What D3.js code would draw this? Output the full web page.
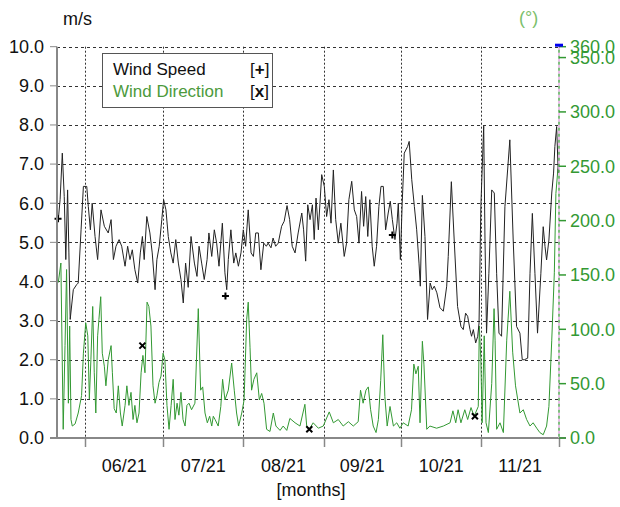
<!DOCTYPE html>
<html>
<head>
<meta charset="utf-8">
<script src="https://cdn.jsdelivr.net/npm/d3@7"></script>
<style>
body { margin: 0; background: #fff; }
svg { display: block; }
text { font-family: "Liberation Sans", Arial, sans-serif; }
</style>
</head>
<body>
<svg width="620" height="507"></svg>
<script>

/// Data ///
var startDate = Date.UTC(2021, 4, 21);   // left edge of the time axis
var endDate = Date.UTC(2021, 11, 1);     // right edge
var monthLabels = ["06/21", "07/21", "08/21", "09/21", "10/21", "11/21"];
var speedTicks = [0, 1, 2, 3, 4, 5, 6, 7, 8, 9, 10];
var dirTicks = [0, 50, 100, 150, 200, 250, 300, 350, 360];

// [days since startDate, m/s]
var speed = [
  [0.5,5.58],[1.2,6.09],[2.05,7.28],[2.8,6.17],[3.4,4.56],[4.1,6.34],[4.6,4.73],[5.1,3.03],
  [6.3,3.79],[7.6,3.92],[8.2,3.96],[9.3,5.32],[10.2,6.43],[11.5,6.43],[12.1,5.92],[12.9,5.32],
  [13.6,6.0],[14.7,5.15],[15.7,4.56],[17.0,5.83],[18.3,5.41],[19.8,5.24],[20.9,5.58],[21.8,4.56],
  [22.8,4.9],[24.0,5.07],[25.0,4.9],[26.3,4.39],[27.3,4.9],[28.2,4.56],[29.1,4.81],[30.1,4.3],
  [31.2,3.96],[32.2,4.73],[33.0,5.15],[33.7,4.56],[34.7,5.66],[35.9,5.24],[36.8,4.73],[37.9,3.79],
  [38.6,4.56],[39.5,4.9],[40.5,5.58],[41.2,6.09],[42.1,5.83],[43.0,5.15],[44.0,4.73],[44.9,4.47],
  [45.9,5.07],[46.9,4.47],[47.9,4.05],[48.8,3.45],[49.7,4.47],[50.7,3.85],[51.8,5.15],[53.1,4.47],
  [54.1,4.13],[54.9,4.9],[55.9,4.47],[56.9,4.05],[58.0,4.56],[58.7,5.24],[59.8,4.64],[60.8,5.32],
  [61.7,4.98],[62.6,4.39],[63.9,5.49],[64.9,4.22],[65.6,3.79],[66.2,4.56],[67.2,5.32],[68.3,4.47],
  [69.1,4.73],[70.1,4.39],[71.1,4.73],[72.0,5.32],[72.9,4.9],[73.9,5.83],[75.0,4.73],[75.9,4.64],
  [76.8,5.24],[77.8,5.24],[78.8,4.3],[79.9,4.98],[80.9,4.9],[81.6,4.98],[82.7,4.86],[83.5,5.11],
  [84.5,4.9],[85.5,4.98],[86.8,5.41],[87.8,5.54],[88.9,5.94],[89.9,5.58],[90.9,4.9],[92.0,4.73],
  [93.2,5.24],[94.6,5.75],[95.3,5.32],[96.1,4.52],[96.9,5.96],[97.8,5.58],[98.7,5.96],[99.4,5.07],
  [100.1,6.13],[101.0,5.32],[102.3,6.73],[103.3,6.43],[104.2,5.66],[105.1,6.09],[105.9,5.49],[106.8,6.85],
  [107.7,5.58],[108.7,4.98],[109.7,5.49],[111.0,4.64],[111.9,4.98],[112.8,6.09],[113.9,6.56],[114.9,5.83],
  [115.8,5.66],[116.7,4.98],[117.7,6.3],[118.5,5.41],[119.3,6.17],[120.1,5.15],[120.9,6.09],[121.8,4.9],
  [122.6,4.39],[123.5,4.9],[124.4,5.92],[125.2,6.43],[126.1,6.43],[127.0,5.32],[128.0,5.75],[128.8,6.05],
  [129.6,5.58],[130.6,5.07],[131.4,5.49],[131.9,6.0],[132.7,4.56],[133.4,6.0],[134.2,7.28],[135.5,7.45],
  [136.1,7.58],[137.1,6.6],[138.1,5.92],[139.0,5.32],[139.9,4.47],[140.4,3.88],[141.2,6.2],[142.2,5.15],
  [143.2,3.03],[144.2,3.96],[145.0,3.79],[145.8,3.88],[146.8,3.71],[148.0,3.33],[149.3,3.24],[150.6,3.88],
  [151.2,4.64],[152.4,6.55],[153.5,5.06],[154.8,3.36],[156.1,2.85],[157.0,2.77],[157.9,3.19],[158.7,3.11],
  [159.6,2.77],[160.2,2.6],[160.9,2.77],[161.8,2.43],[162.6,2.6],[163.1,2.94],[163.8,5.91],[164.9,7.97],
  [165.4,5.06],[166.0,2.68],[166.9,4.21],[168.0,6.34],[169.0,6.26],[169.9,4.21],[170.8,2.68],[171.8,2.6],
  [173.1,5.91],[175.0,7.62],[176.3,5.06],[177.6,2.85],[178.9,2.68],[179.8,2.0],[180.6,2.0],[181.9,2.04],
  [182.8,4.21],[183.7,5.74],[184.7,4.21],[185.7,2.68],[187.0,4.21],[187.9,5.4],[188.6,4.89],[189.2,4.55],
  [190.1,5.06],[191.2,6.26],[191.9,6.77],[192.4,7.45],[193.1,7.96],[193.7,6.77]
];

// [days since startDate, degrees]
var direction = [
  [0.5,143],[1.5,161],[2.4,8],[3.1,85],[3.7,155],[4.4,32],[4.9,103],[5.4,17],[5.9,11],[7.0,13],
  [8.2,23],[9.5,39],[10.2,78],[11.1,106],[11.9,94],[12.5,36],[13.1,72],[13.8,121],[14.4,60],[15.0,23],
  [15.7,94],[16.2,109],[16.9,130],[17.5,78],[18.3,66],[18.9,48],[19.8,72],[20.9,85],[21.4,60],[22.1,27],
  [22.9,23],[23.7,48],[24.5,23],[25.2,11],[26.3,30],[27.0,48],[27.8,30],[28.6,42],[29.4,17],[30.1,30],
  [30.9,14],[31.7,23],[32.5,60],[33.2,76],[34.0,60],[34.8,125],[35.5,121],[36.3,103],[37.1,48],[37.9,32],
  [38.6,39],[39.4,51],[40.2,57],[41.0,78],[41.7,72],[42.5,30],[43.3,8],[44.1,30],[44.9,54],[45.6,17],
  [46.4,32],[47.1,21],[47.9,42],[48.7,17],[49.5,11],[50.2,30],[51.0,32],[52.0,26],[53.3,32],[54.6,119],
  [55.5,44],[56.3,47],[57.2,23],[58.1,14],[59.0,20],[59.8,11],[60.4,20],[61.1,17],[62.3,11],[63.3,29],
  [64.0,54],[64.9,35],[66.2,44],[67.5,69],[68.5,44],[69.4,23],[70.2,11],[71.4,23],[72.3,35],[73.3,109],
  [73.9,125],[74.6,83],[75.2,44],[76.1,54],[77.2,60],[78.2,35],[79.1,41],[80.0,32],[81.0,8],[82.3,6],
  [83.6,23],[84.6,11],[86.2,7],[87.4,11],[88.8,7],[90.0,18],[92.0,14],[93.9,11],[95.8,31],[96.5,11],
  [97.5,8],[99.0,14],[101.0,9],[102.9,11],[105.2,24],[106.8,14],[108.7,17],[110.6,11],[112.6,15],[114.5,11],
  [116.4,15],[117.3,44],[118.3,32],[119.4,44],[120.3,47],[121.2,26],[122.2,11],[123.3,5],[124.2,17],[125.1,53],
  [125.9,95],[126.7,38],[127.6,11],[128.7,29],[130.0,11],[131.3,14],[132.5,9],[133.8,14],[135.7,11],[137.0,26],
  [137.9,68],[138.7,59],[139.6,66],[140.3,14],[141.2,89],[141.8,68],[142.9,8],[144.1,11],[146.7,9],[149.3,11],
  [151.9,14],[153.0,25],[154.1,14],[155.0,26],[156.1,14],[157.6,26],[158.7,17],[160.0,28],[161.2,20],[162.8,29],
  [163.2,103],[163.8,72],[164.3,14],[165.1,94],[165.8,14],[166.7,5],[168.0,50],[168.9,119],[169.3,90],[169.9,8],
  [171.2,14],[172.5,5],[173.8,90],[175.0,135],[176.1,79],[177.2,48],[178.9,23],[180.2,26],[181.5,17],[182.8,11],
  [184.0,14],[185.4,9],[186.6,5],[187.9,3],[189.2,11],[190.1,29],[191.2,90],[192.2,152],[192.8,225],[193.6,248]
];

// sample markers drawn on each series
var speedMarks = [[0.4,5.6],[65.1,3.63],[129.6,5.19]];
var dirMarks = [[33.0,85],[97.5,8],[161.5,20]];

/// Settings ///
var svg = d3.select("svg");
var plotL = 57, plotR = 559, plotT = 46.7, plotB = 438;
var green = "#339933";

function dayToDate(d) { return new Date(startDate + d * 864e5); }

var x = d3.scaleUtc()
    .domain([new Date(startDate), new Date(endDate)])
    .range([plotL, plotR]);

var y = d3.scaleLinear().domain([0, 10]).range([plotB, plotT]);
var y2 = d3.scaleLinear().domain([0, 360]).range([plotB, plotT]);

var monthStarts = d3.utcMonth.range(new Date(Date.UTC(2021, 5, 1)), new Date(endDate));

/// Grid ///
svg.append("g").selectAll("line")
  .data(speedTicks.filter(function(d) { return d > 0; }))
  .enter().append("line")
    .attr("x1", plotL).attr("x2", plotR)
    .attr("y1", function(d) { return Math.round(y(d)) + 0.5; })
    .attr("y2", function(d) { return Math.round(y(d)) + 0.5; })
    .attr("stroke", "#333").attr("stroke-width", 1)
    .attr("stroke-dasharray", "3,3");

svg.append("g").selectAll("line")
  .data(monthStarts)
  .enter().append("line")
    .attr("x1", function(d) { return Math.round(x(d)) + 0.5; })
    .attr("x2", function(d) { return Math.round(x(d)) + 0.5; })
    .attr("y1", plotT).attr("y2", plotB)
    .attr("stroke", "#333").attr("stroke-width", 1)
    .attr("stroke-dasharray", "2,2");

/// Series ///
var speedLine = d3.line()
    .x(function(d) { return x(dayToDate(d[0])); })
    .y(function(d) { return y(d[1]); });

var dirLine = d3.line()
    .x(function(d) { return x(dayToDate(d[0])); })
    .y(function(d) { return y2(d[1]); });

svg.append("path")
    .datum(direction)
    .attr("fill", "none")
    .attr("stroke", green)
    .attr("stroke-width", 1)
    .attr("d", dirLine);

svg.append("path")
    .datum(speed)
    .attr("fill", "none")
    .attr("stroke", "#222")
    .attr("stroke-width", 1)
    .attr("d", speedLine);

// + markers
svg.append("g").selectAll("path")
  .data(speedMarks)
  .enter().append("path")
    .attr("transform", function(d) { return "translate(" + x(dayToDate(d[0])) + "," + y(d[1]) + ")"; })
    .attr("d", "M-3.5,0H3.5M0,-3.5V3.5")
    .attr("stroke", "#000").attr("stroke-width", 2);

// x markers
svg.append("g").selectAll("path")
  .data(dirMarks)
  .enter().append("path")
    .attr("transform", function(d) { return "translate(" + x(dayToDate(d[0])) + "," + y2(d[1]) + ")"; })
    .attr("d", "M-3,-3L3,3M-3,3L3,-3")
    .attr("stroke", "#000").attr("stroke-width", 2);

/// Axes ///
// left axis
svg.append("line")
    .attr("x1", plotL).attr("x2", plotL)
    .attr("y1", plotT).attr("y2", plotB)
    .attr("stroke", "#888").attr("stroke-width", 2);

var yTicks = svg.append("g").selectAll("g")
  .data(speedTicks)
  .enter().append("g")
    .attr("transform", function(d) { return "translate(0," + y(d) + ")"; });
yTicks.append("line")
    .attr("x1", plotL - 7).attr("x2", plotL)
    .attr("stroke", "#888").attr("stroke-width", 1);
yTicks.append("text")
    .attr("x", 44).attr("dy", "0.35em")
    .attr("text-anchor", "end")
    .attr("font-size", 18)
    .attr("fill", "#111")
    .text(function(d) { return d.toFixed(1); });

// bottom axis
svg.append("line")
    .attr("x1", plotL - 7).attr("x2", plotR + 7)
    .attr("y1", plotB).attr("y2", plotB)
    .attr("stroke", "#888").attr("stroke-width", 2);

svg.append("g").selectAll("line")
  .data(monthStarts.concat([new Date(endDate)]))
  .enter().append("line")
    .attr("x1", function(d) { return Math.round(x(d)) + 0.5; })
    .attr("x2", function(d) { return Math.round(x(d)) + 0.5; })
    .attr("y1", plotB).attr("y2", plotB + 9)
    .attr("stroke", "#888").attr("stroke-width", 1.5);

svg.append("g").selectAll("text")
  .data(monthStarts)
  .enter().append("text")
    .attr("x", function(d) { return (x(d) + x(d3.utcMonth.offset(d, 1))) / 2; })
    .attr("y", 472)
    .attr("text-anchor", "middle")
    .attr("font-size", 18)
    .attr("fill", "#111")
    .text(function(d, i) { return monthLabels[i]; });

svg.append("text")
    .attr("x", 311).attr("y", 496)
    .attr("text-anchor", "middle")
    .attr("font-size", 18)
    .attr("fill", "#111")
    .text("[months]");

// right axis
svg.append("line")
    .attr("x1", plotR).attr("x2", plotR)
    .attr("y1", plotT).attr("y2", plotB)
    .attr("stroke", "#e6a6e6").attr("stroke-width", 1.5)
    .attr("stroke-dasharray", "3,3");
svg.append("line")
    .attr("x1", plotR).attr("x2", plotR)
    .attr("y1", plotT).attr("y2", plotB)
    .attr("stroke", "#55aa55").attr("stroke-width", 1.5)
    .attr("stroke-dasharray", "3,3").attr("stroke-dashoffset", 3);

var y2Ticks = svg.append("g").selectAll("g")
  .data(dirTicks)
  .enter().append("g")
    .attr("transform", function(d) { return "translate(0," + y2(d) + ")"; });
y2Ticks.append("line")
    .attr("x1", plotR).attr("x2", plotR + 7)
    .attr("stroke", green).attr("stroke-width", 1.5);
y2Ticks.append("text")
    .attr("x", 570).attr("dy", "0.35em")
    .attr("font-size", 18)
    .attr("fill", green)
    .text(function(d) { return d.toFixed(1); });

// blue end marker at the top of the right axis
svg.append("rect")
    .attr("x", plotR - 4).attr("y", y2(360) - 3)
    .attr("width", 8).attr("height", 3)
    .attr("fill", "#0000ee");

// unit labels
svg.append("text")
    .attr("x", 63).attr("y", 25)
    .attr("font-size", 18).attr("fill", "#111")
    .text("m/s");
svg.append("text")
    .attr("x", 519).attr("y", 24)
    .attr("font-size", 18).attr("fill", "#7cbf6c")
    .text("(°)");

/// Legend ///
var legend = svg.append("g");
legend.append("rect")
    .attr("x", 102.5).attr("y", 53.5)
    .attr("width", 170).attr("height", 54)
    .attr("fill", "#fff").attr("stroke", "#555").attr("stroke-width", 1);
legend.append("text")
    .attr("x", 113).attr("y", 75)
    .attr("font-size", 17).attr("fill", "#111")
    .text("Wind Speed");
legend.append("text")
    .attr("x", 113).attr("y", 97)
    .attr("font-size", 17).attr("fill", "#4c9a3c")
    .text("Wind Direction");
legend.append("text")
    .attr("x", 250).attr("y", 75)
    .attr("font-size", 17).attr("fill", "#111")
    .html('[<tspan font-weight="bold">+</tspan>]');
legend.append("text")
    .attr("x", 250).attr("y", 97)
    .attr("font-size", 17).attr("fill", "#111")
    .html('[<tspan font-weight="bold">x</tspan>]');

</script>
</body>
</html>
